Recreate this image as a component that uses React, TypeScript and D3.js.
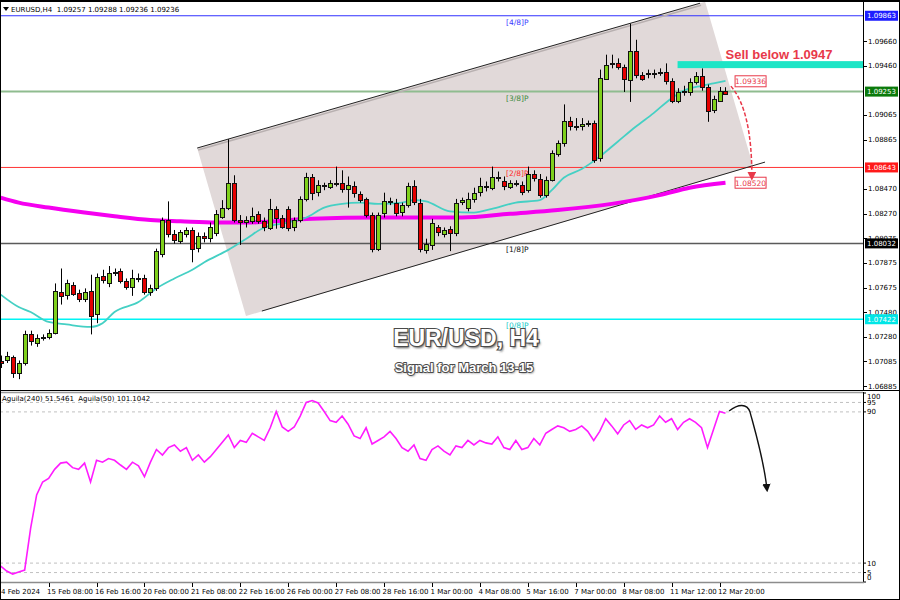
import React from "react";
import * as d3 from "d3";

// ---- OHLC data (H4 bars, 14 Feb 2024 00:00 .. 13 Mar 2024 00:00) ----
const opens = [
  1.0709, 1.0710, 1.0712, 1.0699, 1.0707, 1.0730, 1.0723, 1.0727, 1.0728, 1.0731,
  1.0764, 1.0761, 1.0770, 1.0763, 1.0758, 1.0765, 1.0746, 1.0777, 1.0771, 1.0779,
  1.0781, 1.0773, 1.0768, 1.0775, 1.0775, 1.0764, 1.0767, 1.0795, 1.0822, 1.0811,
  1.0805, 1.0811, 1.0814, 1.0799, 1.0809, 1.0807, 1.0812, 1.0825, 1.0832, 1.0852,
  1.0822, 1.0820, 1.0821, 1.0827, 1.0821, 1.0816, 1.0831, 1.0824, 1.0831, 1.0816,
  1.0822, 1.0839, 1.0857, 1.0844, 1.0850, 1.0849, 1.0852, 1.0852, 1.0847, 1.0849,
  1.0843, 1.0839, 1.0826, 1.0799, 1.0827, 1.0837, 1.0836, 1.0828, 1.0834, 1.0849,
  1.0836, 1.0798, 1.0802, 1.0816, 1.0811, 1.0815, 1.0812, 1.0836, 1.0832, 1.0839,
  1.0844, 1.0849, 1.0848, 1.0857, 1.0853, 1.0849, 1.0852, 1.0850, 1.0846, 1.0859,
  1.0855, 1.0842, 1.0854, 1.0875, 1.0884, 1.0902, 1.0898, 1.0897, 1.0899, 1.0900,
  1.0872, 1.0936, 1.0947, 1.0948, 1.0945, 1.0935, 1.0958, 1.0939, 1.0939, 1.0939,
  1.0940, 1.0941, 1.0934, 1.0918, 1.0925, 1.0925, 1.0933, 1.0938, 1.0929, 1.0910,
  1.0918, 1.09257,
];
const highs = [
  1.0713, 1.0716, 1.0713, 1.0709, 1.0733, 1.0733, 1.0730, 1.0730, 1.0734, 1.0771,
  1.0783, 1.0774, 1.0772, 1.0766, 1.0767, 1.0778, 1.0779, 1.0782, 1.0785, 1.0783,
  1.0783, 1.0775, 1.0782, 1.0779, 1.0778, 1.0770, 1.0799, 1.0824, 1.0837, 1.0814,
  1.0814, 1.0816, 1.0816, 1.0812, 1.0812, 1.0820, 1.0830, 1.0838, 1.0887, 1.0858,
  1.0826, 1.0825, 1.0832, 1.0829, 1.0824, 1.0839, 1.0833, 1.0826, 1.0833, 1.0824,
  1.0841, 1.0860, 1.0859, 1.0854, 1.0852, 1.0854, 1.0865, 1.0862, 1.0857, 1.0853,
  1.0845, 1.0840, 1.0828, 1.0828, 1.0844, 1.0840, 1.0839, 1.0836, 1.0852, 1.0854,
  1.0839, 1.0807, 1.0823, 1.0818, 1.0816, 1.0817, 1.0839, 1.0840, 1.0844, 1.0848,
  1.0856, 1.0853, 1.0865, 1.0861, 1.0857, 1.0854, 1.0854, 1.0853, 1.0865, 1.0862,
  1.0859, 1.0857, 1.0878, 1.0886, 1.0915, 1.0905, 1.0904, 1.0904, 1.0902, 1.0902,
  1.0943, 1.0955, 1.0955, 1.0952, 1.0947, 1.0980, 1.0967, 1.0941, 1.0943, 1.0943,
  1.0944, 1.0948, 1.0936, 1.0928, 1.0930, 1.0936, 1.0941, 1.0944, 1.0931, 1.0922,
  1.0929, 1.09288,
];
const lows = [
  1.0703, 1.0707, 1.0695, 1.0694, 1.0705, 1.0721, 1.0720, 1.0725, 1.0726, 1.0730,
  1.0754, 1.0758, 1.0761, 1.0756, 1.0756, 1.0730, 1.0739, 1.0771, 1.0768, 1.0777,
  1.0771, 1.0766, 1.0761, 1.0772, 1.0762, 1.0761, 1.0765, 1.0792, 1.0808, 1.0803,
  1.0803, 1.0808, 1.0788, 1.0796, 1.0804, 1.0804, 1.0809, 1.0823, 1.0830, 1.0820,
  1.0802, 1.0816, 1.0819, 1.0819, 1.0813, 1.0814, 1.0815, 1.0815, 1.0813, 1.0813,
  1.0820, 1.0837, 1.0838, 1.0841, 1.0846, 1.0847, 1.0849, 1.0844, 1.0832, 1.0840,
  1.0836, 1.0824, 1.0796, 1.0797, 1.0824, 1.0834, 1.0825, 1.0825, 1.0832, 1.0834,
  1.0796, 1.0795, 1.0798, 1.0809, 1.0808, 1.0797, 1.0809, 1.0834, 1.0829, 1.0836,
  1.0841, 1.0845, 1.0846, 1.0853, 1.0846, 1.0847, 1.0849, 1.0842, 1.0844, 1.0853,
  1.0840, 1.0840, 1.0853, 1.0873, 1.0881, 1.0894, 1.0894, 1.0894, 1.0897, 1.0868,
  1.0869, 1.0935, 1.0944, 1.0943, 1.0925, 1.0917, 1.0936, 1.0934, 1.0936, 1.0936,
  1.0938, 1.0931, 1.0916, 1.0916, 1.0922, 1.0922, 1.0931, 1.0926, 1.0901, 1.0908,
  1.0917, 1.09236,
];
const closes = [
  1.0707, 1.0713, 1.0699, 1.0707, 1.0730, 1.0724, 1.0727, 1.0728, 1.0731, 1.0765,
  1.0761, 1.0771, 1.0763, 1.0758, 1.0764, 1.0745, 1.0776, 1.0774, 1.0779, 1.0780,
  1.0773, 1.0768, 1.0775, 1.0775, 1.0764, 1.0767, 1.0797, 1.0822, 1.0811, 1.0806,
  1.0812, 1.0814, 1.0799, 1.0809, 1.0807, 1.0816, 1.0827, 1.0832, 1.0852, 1.0822,
  1.0820, 1.0822, 1.0825, 1.0821, 1.0816, 1.0831, 1.0824, 1.0817, 1.0816, 1.0822,
  1.0839, 1.0857, 1.0844, 1.0850, 1.0849, 1.0852, 1.0851, 1.0847, 1.0850, 1.0843,
  1.0838, 1.0826, 1.0799, 1.0826, 1.0837, 1.0836, 1.0828, 1.0834, 1.0849, 1.0836,
  1.0799, 1.0803, 1.0820, 1.0812, 1.0814, 1.0812, 1.0836, 1.0838, 1.0839, 1.0844,
  1.0849, 1.0848, 1.0857, 1.0856, 1.0849, 1.0852, 1.0851, 1.0844, 1.0859, 1.0856,
  1.0842, 1.0854, 1.0876, 1.0884, 1.0902, 1.0898, 1.0897, 1.0899, 1.0900, 1.0870,
  1.0936, 1.0947, 1.0948, 1.0945, 1.0935, 1.0958, 1.0939, 1.0936, 1.0940, 1.0940,
  1.0941, 1.0934, 1.0918, 1.0925, 1.0926, 1.0933, 1.0938, 1.0929, 1.0910, 1.0919,
  1.0926, 1.09236,
];

// ---- Moving averages (bar index, price) ----
const cyanMaBars = [0, 3, 5, 8, 11, 15, 17, 19, 23, 26, 29, 32, 34, 38, 41, 44, 48, 51, 54, 57, 60, 63, 67, 69, 71, 75, 79, 82, 86, 90, 92, 94, 97, 100, 103, 106, 109, 112, 114, 117, 119, 121];
const cyanMaValues = [1.0762, 1.0752, 1.0748, 1.0740, 1.0738, 1.0736, 1.0739, 1.0748, 1.0756, 1.0767, 1.0775, 1.0782, 1.0788, 1.0798, 1.0807, 1.0816, 1.0820, 1.0824, 1.0832, 1.0835, 1.0836, 1.0835, 1.0836, 1.0838, 1.0837, 1.0829, 1.0828, 1.0831, 1.0836, 1.0838, 1.0846, 1.0856, 1.0863, 1.0873, 1.0885, 1.0897, 1.0908, 1.0920, 1.0926, 1.0930, 1.0932, 1.0934];
const magentaMaBars = [0, 3, 8, 14, 19, 25, 30, 36, 41, 52, 63, 72, 77, 85, 93, 102, 110, 115, 121];
const magentaMaValues = [1.0840, 1.0836, 1.0832, 1.0828, 1.0825, 1.0822, 1.0821, 1.0820, 1.0820, 1.0823, 1.0824, 1.0824, 1.0824, 1.0827, 1.0830, 1.0835, 1.0842, 1.0848, 1.0852];

// ---- Aguila(50) oscillator, one value per bar ----
const aguila50 = [
  8.4, 5.8, 4.2, 5.3, 6.3, 28.5, 46.1, 52.9, 54.8, 59.6,
  62.9, 63.4, 60.5, 59.6, 62.9, 52.9, 64.4, 63.4, 65.3, 64.4,
  61.9, 59.6, 63.4, 61.5, 55.7, 63.4, 70.1, 67.2, 71.1, 72.5,
  69.2, 71.1, 64.4, 67.2, 63.4, 66.3, 70.1, 73.9, 77.8, 71.1,
  74.9, 73.9, 78.7, 76.8, 74.9, 81.6, 90.2, 82.0, 79.7, 82.0,
  87.8, 95.0, 96.0, 94.7, 90.2, 85.4, 84.5, 87.8, 83.5, 77.3,
  75.9, 81.6, 73.0, 74.9, 76.8, 79.7, 75.9, 71.1, 69.2, 72.5,
  65.3, 64.4, 70.1, 72.0, 69.2, 67.2, 72.0, 71.1, 74.9, 72.5,
  74.9, 73.6, 73.0, 76.8, 71.1, 70.1, 74.9, 70.1, 71.1, 75.9,
  72.5, 78.7, 80.7, 82.6, 81.6, 79.7, 80.7, 82.6, 79.7, 74.9,
  79.7, 86.4, 82.6, 78.4, 83.1, 85.4, 80.7, 83.1, 81.6, 83.1,
  87.8, 84.5, 86.4, 80.7, 84.5, 86.4, 84.5, 81.6, 71.1, 80.7,
  90.2, 89.3,
];

// ---- Axes ----
const priceTicks = [1.0966, 1.0946, 1.09065, 1.08865, 1.0847, 1.0827, 1.08075, 1.07875, 1.07675, 1.0748, 1.0728, 1.07085, 1.06885];
const levelPrices = [1.09863, 1.09253, 1.08643, 1.08032, 1.07422];
const levelNames = ["[4/8]P", "[3/8]P", "[2/8]P", "[1/8]P", "[0/8]P"];
const timeTickBars = [8, 16, 24, 32, 40, 48, 56, 64, 72, 80, 88, 96, 104, 112, 120];
const timeTickLabels = ["15 Feb 08:00", "16 Feb 16:00", "20 Feb 00:00", "21 Feb 08:00", "22 Feb 16:00", "26 Feb 00:00", "27 Feb 08:00", "28 Feb 16:00", "1 Mar 00:00", "4 Mar 08:00", "5 Mar 16:00", "7 Mar 00:00", "8 Mar 08:00", "11 Mar 12:00", "12 Mar 20:00"];
const oscLevels = [95, 90, 10, 5];
const oscLabels = [100, 95, 90, 10, 5, 0];

// ---- Annotations (in bar / price space) ----
const sellLevel = 1.0947;
const targetPrices = [1.09336, 1.0852];
const channelUpper = { b0: 32.8, p0: 1.08799, b1: 116.75, p1: 1.09964 };
const channelLower = { b0: 43.6, p0: 1.07488, b1: 127.6, p1: 1.08686 };
const shadeBars = [32.8, 117.6, 125.6, 40.95];
const shadePrices = [1.08799, 1.09976, 1.08654, 1.07448];

const FONT = "'DejaVu Sans', Tahoma, sans-serif";

const levelLine = ["#3030ff", "#8fbc8f", "#ff3434", "#5a5a5a", "#00f4f4"];
const levelBox = ["#1e1eff", "#0b7a0b", "#ff1a1a", "#000000", "#00e6e6"];
const levelText = ["#3a3aff", "#3d8b3d", "#ff2a2a", "#111111", "#19c8c8"];
const levelWidth = [1, 2, 1, 1.5, 1.5];

export default function App() {
  const PLOT_R = 863;
  const x = d3.scaleLinear().domain([0, 120]).range([0.7, 719.5]);
  const y = d3.scaleLinear().domain([1.06885, 1.0966]).range([386, 41]);
  const yo = d3.scaleLinear().domain([0, 100]).range([582, 393]);

  const cyanLine = d3
    .line<number>()
    .x((_, i) => x(cyanMaBars[i]))
    .y((v) => y(v))
    .curve(d3.curveMonotoneX)(cyanMaValues);
  const magLine = d3
    .line<number>()
    .x((_, i) => x(magentaMaBars[i]))
    .y((v) => y(v))
    .curve(d3.curveMonotoneX)(magentaMaValues);
  const oscLine = d3
    .line<number>()
    .x((_, i) => x(i))
    .y((v) => yo(v))(aguila50);

  const shade = shadeBars.map((b, i) => `${x(b)},${y(shadePrices[i])}`).join(" ");

  const redArrow = `M${x(121.9)},${y(1.09297)} Q${x(125.4)},${y(1.09104)} ${x(125.4)},${y(1.08573)}`;
  const blackArrow = `M${x(121.6)},${yo(90.5)} C${x(123.1)},${yo(94.2)} ${x(124.6)},${yo(94.7)} ${x(125.1)},${yo(89.9)} C${x(125.9)},${yo(80.4)} ${x(127.4)},${yo(64.6)} ${x(127.9)},${yo(49.7)}`;

  const titleStyle: React.CSSProperties = { paintOrder: "stroke" } as any;

  return (
    <div style={{ position: "fixed", left: 0, top: 0 }}>
      <svg width={900} height={600} style={{ display: "block", background: "#fff" }} fontFamily={FONT}>
        <defs>
          <clipPath id="mainClip">
            <rect x={0} y={2} width={PLOT_R} height={388} />
          </clipPath>
          <clipPath id="oscClip">
            <rect x={0} y={393} width={PLOT_R} height={189} />
          </clipPath>
          <filter id="blur" x="-10%" y="-30%" width="120%" height="160%">
            <feGaussianBlur stdDeviation="1.2" />
          </filter>
          <marker id="redHead" viewBox="0 0 10 10" refX="5" refY="5" markerWidth="6" markerHeight="6" orient="auto">
            <path d="M0,0 L10,5 L0,10 z" fill="#e8394a" />
          </marker>
          <marker id="blackHead" viewBox="0 0 10 10" refX="5" refY="5" markerWidth="6" markerHeight="6" orient="auto">
            <path d="M0,0 L10,5 L0,10 z" fill="#111" />
          </marker>
        </defs>

        <rect x={0} y={0} width={900} height={600} fill="#fff" />

        {/* ---------------- main panel ---------------- */}
        <g clipPath="url(#mainClip)">
          <polygon points={shade} fill="#e1d9d9" />
          {levelPrices.map((p, i) => (
            <line key={"lv" + i} x1={0} x2={PLOT_R} y1={y(p)} y2={y(p)} stroke={levelLine[i]} strokeWidth={levelWidth[i]} />
          ))}
          {levelPrices.map((p, i) => (
            <text key={"ln" + i} x={506} y={y(p) + 9} fontSize={7.5} fill={levelText[i]}>
              {levelNames[i]}
            </text>
          ))}
          {/* channel lines */}
          <line x1={x(channelUpper.b0) + 1} y1={y(channelUpper.p0) + 2} x2={x(channelUpper.b1) + 1} y2={y(channelUpper.p1) + 2} stroke="#b8b0b0" strokeWidth={1.5} />
          <line x1={x(channelUpper.b0)} y1={y(channelUpper.p0)} x2={x(channelUpper.b1)} y2={y(channelUpper.p1)} stroke="#222" strokeWidth={1} />
          <line x1={x(channelLower.b0)} y1={y(channelLower.p0)} x2={x(channelLower.b1)} y2={y(channelLower.p1)} stroke="#222" strokeWidth={1} />

          <path d={magLine || ""} fill="none" stroke="#f500f0" strokeWidth={4} />
          <path d={cyanLine || ""} fill="none" stroke="#45d0c4" strokeWidth={1.8} />

          {opens.map((o, i) => {
            const c = closes[i];
            const cx = Math.round(x(i));
            const up = c >= o;
            const yt = y(Math.max(o, c));
            const yb = y(Math.min(o, c));
            const hh = Math.max(1, yb - yt);
            return (
              <g key={"c" + i}>
                <line x1={cx + 0.5} x2={cx + 0.5} y1={y(highs[i])} y2={y(lows[i])} stroke="#000" strokeWidth={1} />
                <rect x={cx - 1.5} y={Math.round(yt) + 0.5} width={4} height={Math.max(1, Math.round(hh))} fill={up ? "#7fd01c" : "#e40000"} stroke="#111" strokeWidth={1} />
              </g>
            );
          })}

          {/* sell zone */}
          <rect x={x(113)} y={y(sellLevel) - 3.5} width={PLOT_R - x(113)} height={7} fill="#1de5c6" />
          <text x={x(121)} y={y(sellLevel) - 6} fontSize={13} fontWeight="bold" fill="#e8394a" fontFamily="'Liberation Sans', Arial, sans-serif">
            Sell below 1.0947
          </text>

          {targetPrices.map((p, i) => (
            <g key={"tp" + i}>
              <rect x={x(122.6)} y={y(p) - 5.5} width={31} height={11} fill="#fff" stroke="#e8394a" strokeWidth={1} />
              <text x={x(122.6) + 15.5} y={y(p) + 3} fontSize={7.5} textAnchor="middle" fill="#e8394a">
                {p.toFixed(5)}
              </text>
            </g>
          ))}
          <path d={redArrow} fill="none" stroke="#e8394a" strokeWidth={1.5} strokeDasharray="4,2" markerEnd="url(#redHead)" />

          {/* header */}
          <path d="M3,7 L9,7 L6,11 Z" fill="#000" />
          <text x={11} y={12} fontSize={7} fill="#000" style={{ whiteSpace: "pre" }}>
            {"EURUSD,H4  1.09257 1.09288 1.09236 1.09236"}
          </text>

          {/* title */}
          <text x={467.5} y={347.5} fontSize={23} fontWeight="bold" textAnchor="middle" fill="#555" filter="url(#blur)" fontFamily="'Liberation Sans', Arial, sans-serif">
            EUR/USD, H4
          </text>
          <text x={466} y={346} fontSize={23} fontWeight="bold" textAnchor="middle" fill="#fff" stroke="#4a4a4a" strokeWidth={2.2} style={titleStyle} fontFamily="'Liberation Sans', Arial, sans-serif">
            EUR/USD, H4
          </text>
          <text x={465} y={373} fontSize={13} fontWeight="bold" textAnchor="middle" fill="#555" filter="url(#blur)" fontFamily="'Liberation Sans', Arial, sans-serif">
            Signal for March 13-15
          </text>
          <text x={464} y={372} fontSize={13} fontWeight="bold" textAnchor="middle" fill="#fff" stroke="#4a4a4a" strokeWidth={1.8} style={titleStyle} fontFamily="'Liberation Sans', Arial, sans-serif">
            Signal for March 13-15
          </text>
        </g>

        {/* right price axis */}
        <line x1={PLOT_R + 0.5} x2={PLOT_R + 0.5} y1={0} y2={391} stroke="#000" />
        {priceTicks.map((p) => (
          <g key={"pt" + p}>
            <line x1={PLOT_R} x2={PLOT_R + 4} y1={Math.round(y(p)) + 0.5} y2={Math.round(y(p)) + 0.5} stroke="#000" />
            <text x={PLOT_R + 5} y={y(p) + 2.5} fontSize={7} fill="#000">
              {p.toFixed(5)}
            </text>
          </g>
        ))}
        {levelPrices.map((p, i) => (
          <g key={"lb" + i}>
            <rect x={PLOT_R + 2} y={y(p) - 5} width={33} height={10} fill={levelBox[i]} />
            <text x={PLOT_R + 4} y={y(p) + 2.5} fontSize={7} fill="#fff">
              {p.toFixed(5)}
            </text>
          </g>
        ))}

        {/* separator */}
        <line x1={0} x2={900} y1={390.5} y2={390.5} stroke="#000" strokeWidth={1} />
        <line x1={0} x2={PLOT_R} y1={392.5} y2={392.5} stroke="#9a9a9a" strokeWidth={1.5} />

        {/* ---------------- oscillator panel ---------------- */}
        <g clipPath="url(#oscClip)">
          {oscLevels.map((v) => (
            <line key={"ol" + v} x1={0} x2={PLOT_R} y1={yo(v)} y2={yo(v)} stroke="#b0b0b0" strokeWidth={0.8} strokeDasharray="3,3" />
          ))}
          <path d={oscLine || ""} fill="none" stroke="#ff1cff" strokeWidth={1.6} />
          <path d={blackArrow} fill="none" stroke="#111" strokeWidth={1.4} markerEnd="url(#blackHead)" />
          <text x={2} y={401} fontSize={7} fill="#000" style={{ whiteSpace: "pre" }}>
            {"Aguila(240) 51.5461  Aguila(50) 101.1042"}
          </text>
        </g>
        <line x1={PLOT_R + 0.5} x2={PLOT_R + 0.5} y1={392} y2={583} stroke="#000" />
        {oscLabels.map((v) => {
          const yy = Math.min(577, Math.max(396, yo(v)));
          return (
            <g key={"olb" + v}>
              <line x1={PLOT_R} x2={PLOT_R + 3} y1={yo(v)} y2={yo(v)} stroke="#000" />
              <text x={PLOT_R + 4} y={yy + 2.5} fontSize={7} fill="#000">
                {v}
              </text>
            </g>
          );
        })}
        <line x1={0} x2={PLOT_R + 1} y1={582.5} y2={582.5} stroke="#8c8c8c" strokeWidth={1.5} />

        {/* time axis */}
        <g>
          <text x={x(0) - 4.2} y={594} fontSize={7} fill="#000">
            14 Feb 2024
          </text>
          {timeTickBars.map((b, i) => (
            <g key={"tt" + b}>
              <line x1={Math.round(x(b)) + 0.5} x2={Math.round(x(b)) + 0.5} y1={583} y2={587} stroke="#000" />
              <text x={x(b) - 1.5} y={594} fontSize={7} fill="#000">
                {timeTickLabels[i]}
              </text>
            </g>
          ))}
        </g>

        {/* frame */}
        <rect x={0.5} y={0.5} width={899} height={599} fill="none" stroke="#000" strokeWidth={1} />
        <line x1={0} x2={900} y1={1} y2={1} stroke="#000" strokeWidth={2} />
      </svg>
    </div>
  );
}
